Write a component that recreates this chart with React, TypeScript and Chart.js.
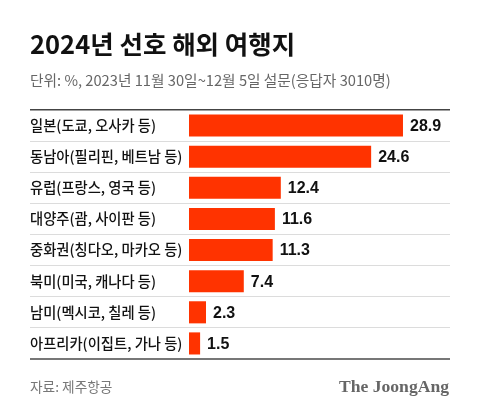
import React, { useEffect, useRef } from "react";
import { Chart, registerables } from "chart.js";

Chart.register(...registerables);

const TITLE = "2024년 선호 해외 여행지";
const SUBTITLE = "단위: %, 2023년 11월 30일~12월 5일 설문(응답자 3010명)";
const SOURCE = "자료: 제주항공";
const BRAND = "The JoongAng";

const categories = [
  "일본(도쿄, 오사카 등)",
  "동남아(필리핀, 베트남 등)",
  "유럽(프랑스, 영국 등)",
  "대양주(괌, 사이판 등)",
  "중화권(칭다오, 마카오 등)",
  "북미(미국, 캐나다 등)",
  "남미(멕시코, 칠레 등)",
  "아프리카(이집트, 가나 등)",
];
const values = [28.9, 24.6, 12.4, 11.6, 11.3, 7.4, 2.3, 1.5];

const KR = "'Noto Sans CJK KR', 'Noto Sans', sans-serif";
const BAR_COLOR = "#ff3300";

const valueLabelPlugin = {
  id: "valueLabels",
  afterDatasetsDraw(chart: any) {
    const { ctx } = chart;
    const meta = chart.getDatasetMeta(0);
    ctx.save();
    ctx.font = "bold 16px 'Liberation Sans', Arial, sans-serif";
    ctx.fillStyle = "#111";
    ctx.textAlign = "left";
    ctx.textBaseline = "middle";
    meta.data.forEach((bar: any, i: number) => {
      const v = chart.data.datasets[0].data[i];
      ctx.fillText(v.toFixed(1), bar.x + 7, bar.y + 1);
    });
    ctx.restore();
  },
};

export default function App() {
  const canvasRef = useRef<HTMLCanvasElement | null>(null);

  useEffect(() => {
    if (!canvasRef.current) return;
    const chart = new Chart(canvasRef.current, {
      type: "bar",
      data: {
        labels: categories,
        datasets: [
          {
            data: values,
            backgroundColor: BAR_COLOR,
            borderWidth: 0,
            barPercentage: 0.71,
            categoryPercentage: 1,
          },
        ],
      },
      options: {
        indexAxis: "y",
        animation: false,
        responsive: false,
        maintainAspectRatio: false,
        events: [],
        layout: { padding: { top: 110, bottom: 56, left: 30, right: 30 } },
        plugins: {
          legend: { display: false },
          tooltip: { enabled: false },
          title: { display: false },
        },
        scales: {
          x: {
            display: false,
            min: 0,
            max: 35.25,
          },
          y: {
            border: { display: false },
            grid: {
              offset: true,
              drawTicks: true,
              tickLength: 159,
              color: (ctx: any) =>
                ctx.type === "scale" ? "#777" : ctx.index === 0 ? "#444" : "#dcdcdc",
              lineWidth: (ctx: any) =>
                ctx.type === "scale" ? 2 : ctx.index === 0 ? 1.5 : 1,
            },
            ticks: {
              crossAlign: "far",
              color: "#111",
              font: { family: KR, size: 14.3, weight: "500" },
            },
            afterFit: (scale: any) => {
              scale.width = 159;
            },
          },
        },
      },
      plugins: [valueLabelPlugin],
    });
    return () => chart.destroy();
  }, []);

  return (
    <div
      style={{
        position: "fixed",
        left: 0,
        top: 0,
        width: 480,
        height: 415,
        background: "#fff",
        overflow: "hidden",
      }}
    >
      <canvas
        ref={canvasRef}
        width={480}
        height={415}
        style={{ position: "absolute", left: 0, top: 0, width: 480, height: 415 }}
      />
      <div
        style={{
          position: "absolute",
          left: 30,
          top: 30.5,
          fontFamily: KR,
          fontWeight: 700,
          fontSize: 25.5,
          lineHeight: "24px",
          letterSpacing: 0,
          color: "#111",
          whiteSpace: "nowrap",
        }}
      >
        {TITLE}
      </div>
      <div
        style={{
          position: "absolute",
          left: 30,
          top: 73,
          fontFamily: KR,
          fontSize: 14.7,
          lineHeight: "14px",
          color: "#666",
          whiteSpace: "nowrap",
        }}
      >
        {SUBTITLE}
      </div>
      <div
        style={{
          position: "absolute",
          left: 30,
          top: 380,
          fontFamily: KR,
          fontSize: 13.7,
          lineHeight: "13.5px",
          color: "#777",
          whiteSpace: "nowrap",
        }}
      >
        {SOURCE}
      </div>
      <div
        style={{
          position: "absolute",
          right: 31,
          top: 378,
          fontFamily: "'Liberation Serif', 'DejaVu Serif', serif",
          fontWeight: 700,
          fontSize: 17.6,
          lineHeight: "17px",
          color: "#666",
          whiteSpace: "nowrap",
        }}
      >
        {BRAND}
      </div>
    </div>
  );
}
